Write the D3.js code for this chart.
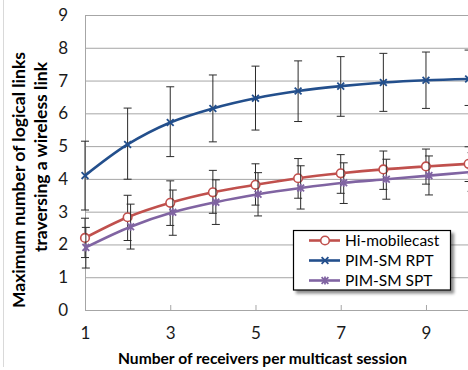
<!DOCTYPE html>
<html>
<head>
<meta charset="utf-8">
<script src="https://cdn.jsdelivr.net/npm/d3@7"></script>
<style>
html,body{margin:0;padding:0;background:#fff;}
svg{display:block;font-family:Lato,"Open Sans",sans-serif;}
</style>
</head>
<body>
<svg id="chart" width="468" height="370"></svg>
<script>
// ---- data ----
const receivers = [1,2,3,4,5,6,7,8,9,10];
const sptX = [1.02,2.07,3.06,4.07,5.06,6.06,7.07,8.07,9.07,10.07];

const hiMobilecast     = [2.20,2.83,3.27,3.59,3.82,4.02,4.17,4.29,4.38,4.46];
const hiMobilecastLow  = [1.60,2.12,2.58,2.95,3.20,3.41,3.56,3.68,3.84,3.92];
const hiMobilecastHigh = [2.80,3.50,3.94,4.26,4.46,4.62,4.74,4.85,4.91,4.98];

const pimRpt     = [4.10,5.05,5.72,6.15,6.46,6.68,6.83,6.94,7.01,7.05];
const pimRptLow  = [3.05,3.99,4.68,5.13,5.49,5.75,5.91,6.06,6.15,6.24];
const pimRptHigh = [5.15,6.16,6.81,7.17,7.44,7.60,7.73,7.83,7.87,7.93];

const pimSpt     = [1.91,2.54,2.98,3.29,3.53,3.72,3.88,3.99,4.10,4.21];
const pimSptLow  = [1.28,1.86,2.28,2.61,2.87,3.08,3.25,3.38,3.51,3.62];
const pimSptHigh = [2.52,3.23,3.66,3.97,4.19,4.40,4.49,4.60,4.70,4.80];

const xTicks = [1,3,5,7,9];
const yTicks = [0,1,2,3,4,5,6,7,8,9];
const seriesNames = ["Hi-mobilecast","PIM-SM RPT","PIM-SM SPT"];
const xTitle = "Number of receivers per multicast session";
const yTitle1 = "Maximum number of logical links";
const yTitle2 = "traversing a wireless link";

// ---- layout ----
const svg = d3.select("#chart");
const L = 85, R = 468.6, T = 15, B = 310;
const x = d3.scaleLinear().domain([1,10]).range([L,R]);
const y = d3.scaleLinear().domain([0,9]).range([B,T]);

const colors = {hi:"#C0504D", rpt:"#234F8C", spt:"#8064A2"};

// outer chart border (left edge visible)
svg.append("line").attr("x1",3.5).attr("x2",3.5).attr("y1",0).attr("y2",367)
  .attr("stroke","#D9D9D9").attr("stroke-width",1);

// gridlines / y axis
const yAxis = svg.append("g").attr("transform",`translate(${L},0)`)
  .call(d3.axisLeft(y).tickValues(yTicks).tickSize(-(R-L)).tickPadding(17).tickFormat(d3.format("d")));
yAxis.select(".domain").remove();
yAxis.selectAll(".tick line").attr("stroke","#A6A6A6").attr("stroke-width",1);
yAxis.selectAll(".tick text").attr("fill","#1a1a1a").style("font-size","17px").style("font-family","Lato,sans-serif");

// left axis line
svg.append("line").attr("x1",L+0.5).attr("x2",L+0.5).attr("y1",T).attr("y2",B)
  .attr("stroke","#A6A6A6");

// x axis
const xAxis = svg.append("g").attr("transform",`translate(0,${B})`)
  .call(d3.axisBottom(x).tickValues(xTicks).tickSizeInner(-5).tickSizeOuter(0).tickPadding(17).tickFormat(d3.format("d")));
xAxis.select(".domain").attr("stroke","#A6A6A6");
xAxis.selectAll(".tick line").attr("stroke","#A6A6A6");
xAxis.selectAll(".tick text").attr("fill","#1a1a1a").style("font-size","17px").style("font-family","Lato,sans-serif");

// series definitions
const series = [
  {name:seriesNames[0], xs:receivers, v:hiMobilecast, lo:hiMobilecastLow, hi:hiMobilecastHigh, color:colors.hi, marker:"circle"},
  {name:seriesNames[1], xs:receivers, v:pimRpt, lo:pimRptLow, hi:pimRptHigh, color:colors.rpt, marker:"x"},
  {name:seriesNames[2], xs:sptX, v:pimSpt, lo:pimSptLow, hi:pimSptHigh, color:colors.spt, marker:"star"}
];

const line = d3.line().x(d=>x(d[0])).y(d=>y(d[1])).curve(d3.curveCatmullRom.alpha(0.5));

function drawMarker(g, type, color, cx, cy){
  if(type==="circle"){
    g.append("circle").attr("cx",cx).attr("cy",cy).attr("r",4.3)
      .attr("fill","#fff").attr("stroke",color).attr("stroke-width",1.6);
  } else {
    const s = 3.4;
    const p = `M${cx-s},${cy-s}L${cx+s},${cy+s}M${cx-s},${cy+s}L${cx+s},${cy-s}` + (type==="star" ? `M${cx},${cy-s-0.6}L${cx},${cy+s+0.6}` : "");
    g.append("path").attr("d",p).attr("stroke",color).attr("stroke-width",1.8).attr("fill","none");
  }
}

const cap = 4;
series.forEach(s=>{
  const g = svg.append("g");
  const pts = s.xs.map((xv,i)=>[xv,s.v[i]]);
  s.xs.forEach((xv,i)=>{
    const px = x(xv);
    g.append("path")
      .attr("d",`M${px},${y(s.lo[i])}V${y(s.hi[i])}M${px-cap},${y(s.lo[i])}H${px+cap}M${px-cap},${y(s.hi[i])}H${px+cap}`)
      .attr("stroke","#2b2b2b").attr("stroke-width",1).attr("fill","none");
  });
  g.append("path").datum(pts).attr("d",line).attr("fill","none")
    .attr("stroke",s.color).attr("stroke-width",2.6);
  pts.forEach(p=>drawMarker(g,s.marker,s.color,x(p[0]),y(p[1])));
});

// legend
const defs = svg.append("defs");
const f = defs.append("filter").attr("id","sh").attr("x","-10%").attr("y","-10%").attr("width","130%").attr("height","140%");
f.append("feDropShadow").attr("dx",3).attr("dy",3).attr("stdDeviation",1.5).attr("flood-color","#000").attr("flood-opacity",0.45);
const lg = svg.append("g");
lg.append("rect").attr("x",293.5).attr("y",230.5).attr("width",157).attr("height",59.5)
  .attr("fill","#fff").attr("stroke","#000").attr("stroke-width",1.2).attr("filter","url(#sh)");
series.forEach((s,i)=>{
  const yy = 240.5 + i*20;
  lg.append("line").attr("x1",309).attr("x2",340).attr("y1",yy).attr("y2",yy)
    .attr("stroke",s.color).attr("stroke-width",2.6);
  drawMarker(lg,s.marker,s.color,325,yy);
  lg.append("text").attr("x",345).attr("y",yy).attr("dy","0.35em")
    .style("font-size","15.5px").attr("fill","#000").text(s.name);
});

// axis titles
svg.append("text").attr("x",262.5).attr("y",364).attr("text-anchor","middle")
  .style("font-size","15.6px").style("font-weight","bold").attr("fill","#000").text(xTitle);
svg.append("text").attr("transform","translate(25,180) rotate(-90)").attr("text-anchor","middle")
  .style("font-size","17.5px").style("font-weight","bold").attr("fill","#000").text(yTitle1);
svg.append("text").attr("transform","translate(47,157) rotate(-90)").attr("text-anchor","middle")
  .style("font-size","17.5px").style("font-weight","bold").attr("fill","#000").text(yTitle2);
</script>
</body>
</html>
